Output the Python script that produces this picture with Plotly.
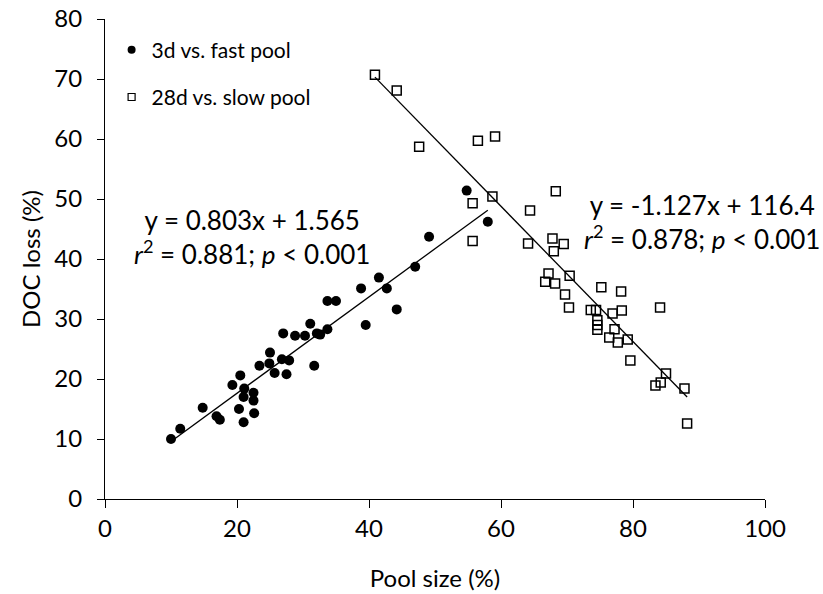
import plotly.graph_objects as go

# 3-day DOC loss vs. fast pool size (%)
fast_x = [10.0, 11.4, 14.8, 16.9, 17.4, 20.3, 21.0, 22.6, 19.3, 20.5,
          21.1, 21.0, 22.5, 22.5, 23.4, 25.0, 24.9, 25.7, 26.8, 27.9,
          27.5, 27.0, 28.8, 30.3, 31.1, 32.1, 32.6, 33.7, 31.7, 33.7,
          35.0, 38.8, 39.5, 41.5, 42.7, 44.2, 47.0, 49.1, 54.8, 58.0]
fast_y = [10.0, 11.7, 15.2, 13.8, 13.2, 15.0, 12.8, 14.3, 19.0, 20.6,
          18.4, 17.0, 17.7, 16.4, 22.2, 24.4, 22.6, 21.0, 23.3, 23.1,
          20.8, 27.6, 27.2, 27.2, 29.2, 27.6, 27.4, 28.3, 22.2, 33.0,
          33.0, 35.1, 29.0, 36.9, 35.1, 31.6, 38.7, 43.7, 51.4, 46.2]

# 28-day DOC loss vs. slow pool size (%)
slow_x = [40.9, 44.2, 47.6, 56.5, 59.1, 55.7, 58.7, 55.7, 68.3, 64.4,
          64.1, 67.8, 69.5, 68.0, 70.4, 69.7, 70.3, 75.2, 78.2, 73.6,
          74.4, 74.6, 74.6, 74.6, 76.9, 78.3, 77.2, 76.4, 77.7, 79.2,
          84.1, 79.6, 85.0, 84.2, 83.4, 87.8, 88.2, 67.2, 66.7, 68.2]
slow_y = [70.7, 68.1, 58.7, 59.7, 60.4, 49.3, 50.4, 43.0, 51.3, 48.1,
          42.6, 43.4, 42.5, 41.3, 37.2, 34.1, 31.9, 35.3, 34.6, 31.5,
          31.5, 29.8, 29.0, 28.2, 30.9, 31.4, 28.3, 26.9, 26.1, 26.6,
          31.9, 23.1, 20.9, 19.4, 18.9, 18.4, 12.6, 37.6, 36.2, 35.9]

# Linear fits (slope, intercept)
fast_fit = (0.803, 1.565)
slow_fit = (-1.127, 116.4)

x_ticks = [0, 20, 40, 60, 80, 100]
y_ticks = [0, 10, 20, 30, 40, 50, 60, 70, 80]

FONT = "Lato"


def fit_line(xs, coef):
    lo, hi = min(xs), max(xs)
    return [lo, hi], [coef[0] * lo + coef[1], coef[0] * hi + coef[1]]


fig = go.Figure()

fx, fy = fit_line(fast_x, fast_fit)
sx, sy = fit_line(slow_x, slow_fit)
fig.add_trace(go.Scatter(x=fx, y=fy, mode="lines", showlegend=False,
                         line=dict(color="black", width=1.3)))
fig.add_trace(go.Scatter(x=sx, y=sy, mode="lines", showlegend=False,
                         line=dict(color="black", width=1.3)))

fig.add_trace(go.Scatter(x=fast_x, y=fast_y, mode="markers", showlegend=False,
                         marker=dict(symbol="circle", size=10, color="black")))
fig.add_trace(go.Scatter(x=slow_x, y=slow_y, mode="markers", showlegend=False,
                         marker=dict(symbol="square-open", size=9, color="black",
                                     line=dict(width=1.5))))

# legend entries with smaller symbols
fig.add_trace(go.Scatter(x=[None], y=[None], mode="markers", name="3d vs. fast pool",
                         legendgroup="a",
                         marker=dict(symbol="circle", size=8, color="black")))
fig.add_trace(go.Scatter(x=[None], y=[None], mode="markers", name="28d vs. slow pool",
                         legendgroup="b",
                         marker=dict(symbol="square-open", size=7, color="black",
                                     line=dict(width=1.2))))

ann_font = dict(family=FONT, size=26, color="black")
fig.add_annotation(x=0.222, y=0.546, xref="paper", yref="paper",
                   xanchor="center", yanchor="middle",
                   text="y = 0.803x + 1.565<br><i>r</i><sup>2</sup> = 0.881; <i>p</i> < 0.001",
                   showarrow=False, align="center", font=ann_font)
fig.add_annotation(x=0.905, y=0.578, xref="paper", yref="paper",
                   xanchor="center", yanchor="middle",
                   text="y = -1.127x + 116.4<br><i>r</i><sup>2</sup> = 0.878; <i>p</i> < 0.001",
                   showarrow=False, align="center", font=ann_font)

fig.update_layout(
    width=823, height=594,
    margin=dict(l=105, r=58, t=19, b=95, autoexpand=False),
    paper_bgcolor="white", plot_bgcolor="white",
    font=dict(family=FONT, size=22, color="black"),
    legend=dict(x=0.01, y=0.978, xanchor="left", yanchor="top",
                bgcolor="rgba(0,0,0,0)", font=dict(size=21),
                traceorder="grouped", tracegroupgap=17),
    xaxis=dict(range=[0, 100], tickvals=x_ticks, showgrid=False, zeroline=False,
               showline=True, linecolor="black", linewidth=1,
               ticks="outside", ticklen=8, tickcolor="black",
               ticklabelstandoff=0, automargin=False,
               tickfont=dict(size=24),
               title=dict(text="Pool size (%)", font=dict(size=24), standoff=29)),
    yaxis=dict(range=[0, 80], tickvals=y_ticks, showgrid=False, zeroline=False,
               showline=True, linecolor="black", linewidth=1,
               ticks="outside", ticklen=7, tickcolor="black",
               ticklabelstandoff=10, automargin=False,
               tickfont=dict(size=24),
               title=dict(text="DOC loss (%)", font=dict(size=24), standoff=6)),
)

fig.write_html("out.html")
